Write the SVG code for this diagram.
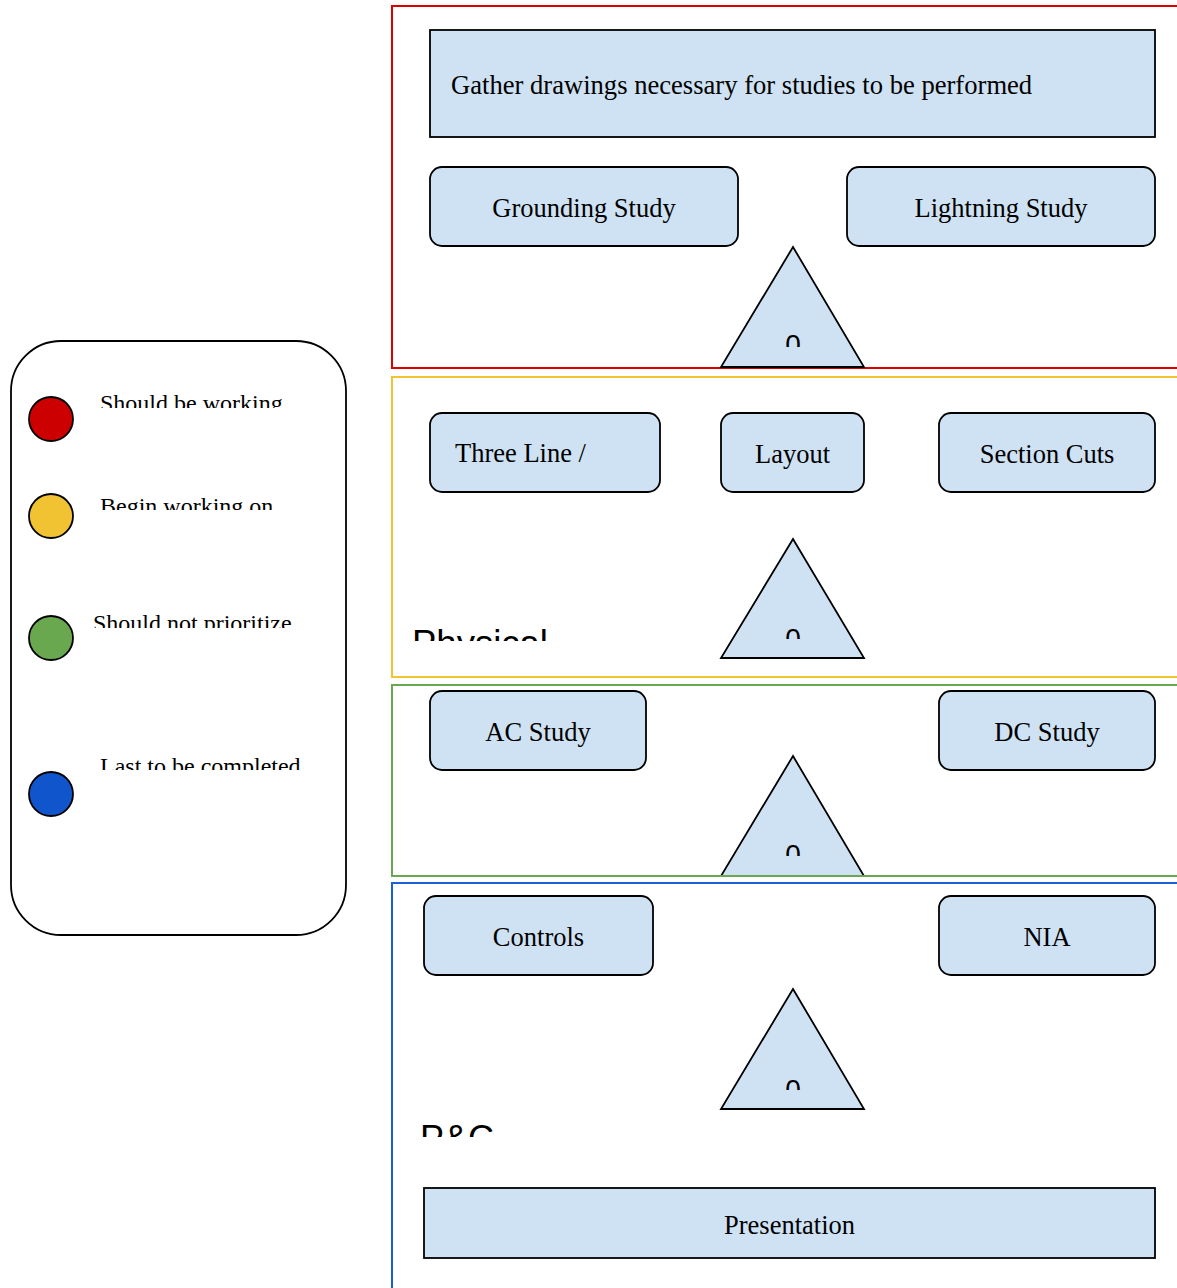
<svg xmlns="http://www.w3.org/2000/svg" width="1177" height="1288" viewBox="0 0 1177 1288">
<style>
.box{fill:#cfe2f3;stroke:#000;stroke-width:1.8}
.tri{fill:#cfe2f3;stroke:#000;stroke-width:1.8;stroke-linejoin:miter}
.t{font-family:"Liberation Serif","Times New Roman",serif;font-size:26.5px;fill:#000}
.lg{font-family:"Liberation Serif","Times New Roman",serif;font-size:24px;fill:#000}
.s{font-family:"Liberation Sans",Arial,sans-serif;fill:#000}
.frame{fill:none;stroke-width:2}
</style>
<defs>
<clipPath id="c1" clipPathUnits="userSpaceOnUse"><rect x="0" y="380" width="350" height="28"/></clipPath>
<clipPath id="c2" clipPathUnits="userSpaceOnUse"><rect x="0" y="480" width="350" height="30"/></clipPath>
<clipPath id="c3" clipPathUnits="userSpaceOnUse"><rect x="0" y="600" width="350" height="28"/></clipPath>
<clipPath id="c4" clipPathUnits="userSpaceOnUse"><rect x="0" y="740" width="350" height="30"/></clipPath>
<clipPath id="z1" clipPathUnits="userSpaceOnUse"><rect x="760" y="320" width="70" height="27"/></clipPath>
<clipPath id="z2" clipPathUnits="userSpaceOnUse"><rect x="760" y="610" width="70" height="29"/></clipPath>
<clipPath id="z3" clipPathUnits="userSpaceOnUse"><rect x="760" y="830" width="70" height="26"/></clipPath>
<clipPath id="z4" clipPathUnits="userSpaceOnUse"><rect x="760" y="1060" width="70" height="30"/></clipPath>
<clipPath id="p1" clipPathUnits="userSpaceOnUse"><rect x="400" y="610" width="200" height="31"/></clipPath>
<clipPath id="p2" clipPathUnits="userSpaceOnUse"><rect x="400" y="1100" width="200" height="37"/></clipPath>
</defs>

<g id="legend">
<rect x="11" y="341" width="335" height="594" rx="50" ry="50" fill="#fff" stroke="#000" stroke-width="1.8"/>
<circle cx="51" cy="419" r="22" fill="#cc0000" stroke="#000" stroke-width="1.8"/>
<circle cx="51" cy="516" r="22" fill="#f1c232" stroke="#000" stroke-width="1.8"/>
<circle cx="51" cy="638" r="22" fill="#6aa84f" stroke="#000" stroke-width="1.8"/>
<circle cx="51" cy="794" r="22" fill="#1155cc" stroke="#000" stroke-width="1.8"/>
<text class="lg" x="100" y="411" clip-path="url(#c1)">Should be working</text>
<text class="lg" x="100" y="514" clip-path="url(#c2)">Begin working on</text>
<text class="lg" x="93" y="631" clip-path="url(#c3)">Should not prioritize</text>
<text class="lg" x="100" y="774" clip-path="url(#c4)">Last to be completed</text>
</g>

<g id="frame-red">
<rect class="frame" x="392" y="6" width="800" height="362" stroke="#dd0000"/>
</g>
<g id="frame-yellow">
<rect class="frame" x="392" y="377" width="800" height="300" stroke="#f1c232"/>
<text class="s" x="412" y="656" font-size="36.500" clip-path="url(#p1)">Physical</text>
</g>
<g id="frame-blue">
<rect class="frame" x="392" y="883" width="800" height="420" stroke="#1c5fd4"/>
<text class="s" x="420" y="1151" font-size="36" clip-path="url(#p2)">P&amp;C</text>
</g>

<g id="gather">
<rect class="box" x="430" y="30" width="725" height="107"/>
<text class="t" x="451" y="94" style="font-size:26.6px">Gather drawings necessary for studies to be performed</text>
</g>
<g id="grounding">
<rect class="box" x="430" y="167" width="308" height="79" rx="12"/>
<text class="t" x="584" y="217" text-anchor="middle">Grounding Study</text>
</g>
<g id="lightning">
<rect class="box" x="847" y="167" width="308" height="79" rx="12"/>
<text class="t" x="1001" y="217" text-anchor="middle">Lightning Study</text>
</g>
<g id="tri1">
<polygon class="tri" points="793,247 864,367 721,367"/>
<text class="s" x="793" y="354" font-size="28" text-anchor="middle" clip-path="url(#z1)">0</text>
</g>

<g id="threeline">
<rect class="box" x="430" y="413" width="230" height="79" rx="12"/>
<text class="t" x="455" y="462">Three Line /</text>
</g>
<g id="layout">
<rect class="box" x="721" y="413" width="143" height="79" rx="12"/>
<text class="t" x="792.500" y="463" text-anchor="middle">Layout</text>
</g>
<g id="sectioncuts">
<rect class="box" x="939" y="413" width="216" height="79" rx="12"/>
<text class="t" x="1047" y="463" text-anchor="middle">Section Cuts</text>
</g>
<g id="tri2">
<polygon class="tri" points="793,539 864,658 721,658"/>
<text class="s" x="793" y="648" font-size="28" text-anchor="middle" clip-path="url(#z2)">0</text>
</g>

<g id="acstudy">
<rect class="box" x="430" y="691" width="216" height="79" rx="12"/>
<text class="t" x="538" y="741" text-anchor="middle">AC Study</text>
</g>
<g id="dcstudy">
<rect class="box" x="939" y="691" width="216" height="79" rx="12"/>
<text class="t" x="1047" y="741" text-anchor="middle">DC Study</text>
</g>
<g id="tri3">
<polygon class="tri" points="793,756 864,876 721,876"/>
<text class="s" x="793" y="864" font-size="28" text-anchor="middle" clip-path="url(#z3)">0</text>
</g>
<g id="frame-green">
<rect class="frame" x="392" y="685" width="800" height="191" stroke="#6aa84f"/>
</g>

<g id="controls">
<rect class="box" x="424" y="896" width="229" height="79" rx="12"/>
<text class="t" x="538.500" y="946" text-anchor="middle">Controls</text>
</g>
<g id="nia">
<rect class="box" x="939" y="896" width="216" height="79" rx="12"/>
<text class="t" x="1047" y="946" text-anchor="middle">NIA</text>
</g>
<g id="tri4">
<polygon class="tri" points="793,989 864,1109 721,1109"/>
<text class="s" x="793" y="1099" font-size="28" text-anchor="middle" clip-path="url(#z4)">0</text>
</g>
<g id="presentation">
<rect class="box" x="424" y="1188" width="731" height="70"/>
<text class="t" x="789.500" y="1234" text-anchor="middle">Presentation</text>
</g>
<g id="connectors"/>
</svg>
